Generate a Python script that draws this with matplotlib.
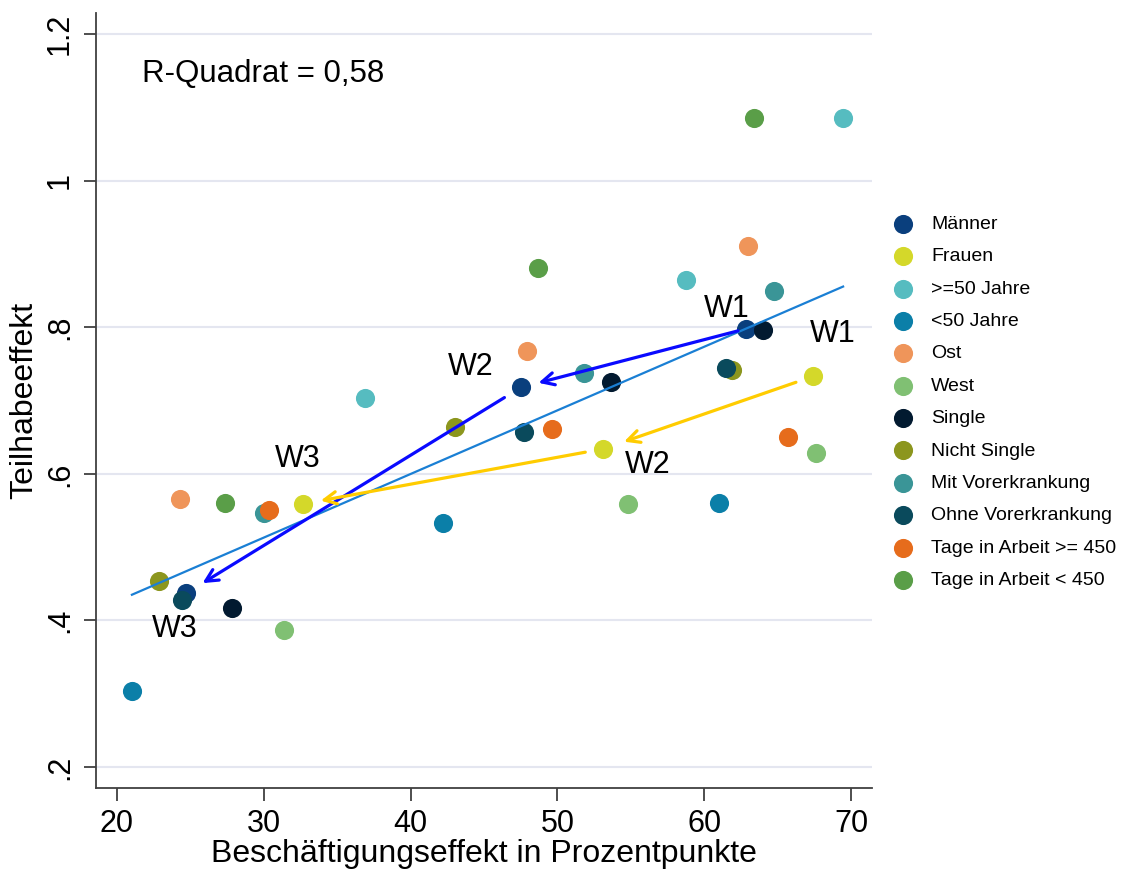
import numpy as np
import matplotlib.pyplot as plt

plt.rcParams['font.family'] = ['Liberation Sans', 'DejaVu Sans']

# Gruppen, Farben und Effekte je Welle (W1, W2, W3)
gruppen = ['Männer', 'Frauen', '>=50 Jahre', '<50 Jahre', 'Ost', 'West', 'Single',
           'Nicht Single', 'Mit Vorerkrankung', 'Ohne Vorerkrankung',
           'Tage in Arbeit >= 450', 'Tage in Arbeit < 450']
farben = ['#0a3f7d', '#d4d82a', '#56bcc0', '#0b7fa8', '#ef955a', '#80c073', '#021a30',
          '#8c961e', '#3a9597', '#0a4a5c', '#e66c1c', '#5a9e48']

beschaeftigung = [
    [62.85, 47.52, 24.70],
    [67.41, 53.11, 32.67],
    [69.46, 58.76, 36.89],
    [61.01, 42.21, 21.02],
    [62.98, 47.93, 24.29],
    [67.62, 54.81, 31.38],
    [64.01, 53.65, 27.83],
    [61.89, 43.02, 22.86],
    [64.75, 51.81, 30.01],
    [61.48, 47.72, 24.43],
    [65.71, 49.63, 30.35],
    [63.39, 48.68, 27.36],
]
teilhabe = [
    [0.798, 0.718, 0.437],
    [0.733, 0.634, 0.559],
    [1.085, 0.864, 0.703],
    [0.560, 0.533, 0.304],
    [0.911, 0.768, 0.566],
    [0.628, 0.559, 0.387],
    [0.796, 0.725, 0.417],
    [0.742, 0.664, 0.454],
    [0.849, 0.738, 0.547],
    [0.744, 0.657, 0.428],
    [0.650, 0.661, 0.551],
    [1.085, 0.881, 0.560],
]

fig = plt.figure(figsize=(11.21, 8.75), dpi=100)
ax = fig.add_axes([0.0856, 0.0994, 0.6923, 0.8856])

for g, c, xs, ys in zip(gruppen, farben, beschaeftigung, teilhabe):
    ax.scatter(xs, ys, s=190, color=c, label=g, linewidths=0, zorder=3)

# lineare Regression über alle Punkte
x_all = np.array(beschaeftigung).ravel()
y_all = np.array(teilhabe).ravel()
m, b = np.polyfit(x_all, y_all, 1)
xl = np.array([x_all.min(), x_all.max()])
ax.plot(xl, m * xl + b, color='#1a7fd4', lw=1.6, zorder=4)

# Pfeile W1 -> W2 -> W3 für Männer (blau) und Frauen (gelb)
def pfeil(p_von, p_nach, farbe, sa, sb):
    ax.annotate('', xy=p_nach, xytext=p_von,
                arrowprops=dict(arrowstyle='->', color=farbe, lw=2.3,
                                shrinkA=sa, shrinkB=sb, mutation_scale=22),
                zorder=5)

mx, my = beschaeftigung[0], teilhabe[0]
fx, fy = beschaeftigung[1], teilhabe[1]
pfeil((mx[0], my[0]), (mx[1], my[1]), '#0a0aff', 6, 13)
pfeil((mx[1], my[1]), (mx[2], my[2]), '#0a0aff', 14, 14)
pfeil((fx[0], fy[0]), (fx[1], fy[1]), '#ffcc00', 13, 16)
pfeil((fx[1], fy[1]), (fx[2], fy[2]), '#ffcc00', 13, 13)

wellen_text = [('W1', 61.55, 0.825), ('W1', 68.77, 0.791), ('W2', 44.11, 0.746),
               ('W2', 56.17, 0.612), ('W3', 32.33, 0.620), ('W3', 23.95, 0.388)]
for t, x, y in wellen_text:
    ax.text(x, y, t, fontsize=22, ha='center', va='center', zorder=6)

ax.text(0.059, 0.922, 'R-Quadrat = 0,58', transform=ax.transAxes, fontsize=22.5,
        ha='left', va='center')

ax.set_xlim(18.57, 71.43)
ax.set_ylim(0.1713, 1.2287)
ax.set_xticks([20, 30, 40, 50, 60, 70])
ax.set_yticks([0.2, 0.4, 0.6, 0.8, 1.0, 1.2])
ax.set_yticklabels(['.2', '.4', '.6', '.8', '1', '1.2'], rotation=90, va='center')
ax.tick_params(labelsize=22, length=9, width=1.3, color='#404040', pad=6)
ax.grid(axis='y', color='#e4e6f0', lw=1.5)
ax.set_axisbelow(True)
for s in ['top', 'right']:
    ax.spines[s].set_visible(False)
for s in ['left', 'bottom']:
    ax.spines[s].set_color('#404040')
    ax.spines[s].set_linewidth(1.3)

ax.set_xlabel('Beschäftigungseffekt in Prozentpunkte', fontsize=23, labelpad=0)
ax.set_ylabel('Teilhabeeffekt', fontsize=23, labelpad=4)

fig.legend(loc='upper left', bbox_to_anchor=(0.797, 0.754), frameon=False,
           fontsize=14, scatterpoints=1, handlelength=1.0, handletextpad=0.95,
           labelspacing=0.76, borderpad=0, borderaxespad=0)

plt.savefig('out.png', dpi=100)
